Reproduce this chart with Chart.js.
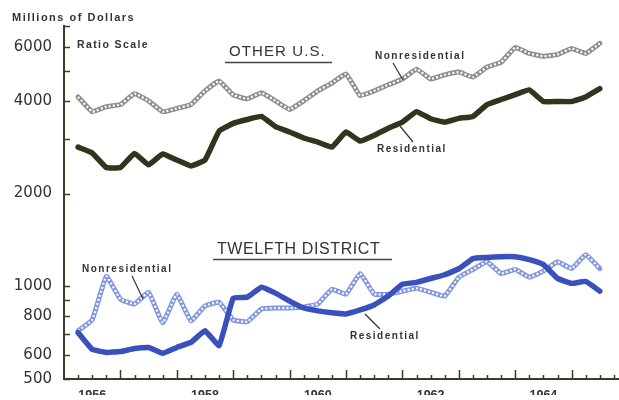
<!DOCTYPE html>
<html>
<head>
<meta charset="utf-8">
<script src="https://cdn.jsdelivr.net/npm/chart.js@4/dist/chart.umd.min.js"></script>
<style>
html,body{margin:0;padding:0;background:#fff;}
#wrap{width:619px;height:400px;position:relative;}
</style>
</head>
<body>
<div id="wrap"><canvas id="c" width="619" height="400"></canvas></div>
<script>
// ---- data (quarterly, millions of dollars, ratio scale) ----
const quarters = [
 '1956 Q1','1956 Q2','1956 Q3','1956 Q4','1957 Q1','1957 Q2','1957 Q3','1957 Q4',
 '1958 Q1','1958 Q2','1958 Q3','1958 Q4','1959 Q1','1959 Q2','1959 Q3','1959 Q4',
 '1960 Q1','1960 Q2','1960 Q3','1960 Q4','1961 Q1','1961 Q2','1961 Q3','1961 Q4',
 '1962 Q1','1962 Q2','1962 Q3','1962 Q4','1963 Q1','1963 Q2','1963 Q3','1963 Q4',
 '1964 Q1','1964 Q2','1964 Q3','1964 Q4','1965 Q1','1965 Q2'
];
const otherResidential = [2830,2710,2430,2430,2700,2480,2690,2570,2460,2570,3190,3380,3480,3560,3300,3170,3030,2940,2830,3170,2960,3090,3260,3410,3690,3500,3410,3510,3560,3890,4040,4190,4340,3980,3980,3980,4120,4380];
const otherNonresidential = [4120,3690,3830,3890,4220,4000,3690,3780,3890,4310,4640,4180,4060,4250,4000,3750,4000,4310,4570,4890,4160,4310,4510,4710,5070,4710,4860,4960,4780,5150,5340,5960,5700,5580,5660,5920,5700,6150];
const twelfthResidential = [707,624,610,614,628,633,606,633,657,717,642,915,922,993,950,895,850,832,820,813,838,870,930,1015,1030,1060,1090,1140,1230,1240,1248,1248,1220,1176,1061,1022,1037,964];
const twelfthNonresidential = [717,778,1077,908,876,955,761,943,772,863,888,778,767,844,850,850,856,876,978,943,1100,943,943,964,985,957,929,1070,1134,1202,1100,1134,1070,1120,1202,1142,1266,1142];
const yTickValues = [500,600,700,800,900,1000,2000,3000,4000,5000,6000,7000];
const yLabelled = [500,600,800,1000,2000,4000,6000];
const yearLabels = ['1956','1958','1960','1962','1964'];

// quarter label -> position on the time axis (plotted at quarter end)
function qPos(label){ const p = label.split(' Q'); return parseInt(p[0]) + parseInt(p[1]) * 0.25; }
function pts(values){ return values.map((v,i)=>({x:qPos(quarters[i]), y:v})); }

const AXIS = '#3b3b2a';
const TEXT = '#333';

const decorPlugin = {
  id:'decor',
  afterDraw(chart){
    const ctx = chart.ctx, xs = chart.scales.x, ys = chart.scales.y;
    const ca = chart.chartArea;
    ctx.save();
    ctx.strokeStyle = AXIS; ctx.lineWidth = 1.5;
    yTickValues.forEach(v=>{
      const y = Math.round(ys.getPixelForValue(v))+0.5;
      ctx.beginPath(); ctx.moveTo(ca.left, y); ctx.lineTo(ca.left+6, y); ctx.stroke();
    });
    for(let t=1956.25; t<=1965.76; t+=0.25){
      const x = Math.round(xs.getPixelForValue(t))+0.5;
      const major = Math.abs(t-Math.round(t))<0.01;
      ctx.beginPath(); ctx.moveTo(x, ca.bottom); ctx.lineTo(x, ca.bottom-(major?9:4)); ctx.stroke();
    }
    function txt(s,x,y,font,spacing,align){
      ctx.font = font; ctx.fillStyle = TEXT; ctx.textBaseline='middle'; ctx.textAlign = align||'left';
      try{ ctx.letterSpacing = (spacing||0)+'px'; }catch(e){}
      ctx.fillText(s,x,y);
      try{ ctx.letterSpacing = '0px'; }catch(e){}
    }
    txt('Millions of Dollars', 12, 18, "bold 11px 'Liberation Sans'", 1.5);
    txt('Ratio Scale', 77, 45, "bold 10.5px 'Liberation Sans'", 1.4);
    txt('OTHER U.S.', 229, 52, "15px 'Liberation Sans'", 1.1);
    txt('TWELFTH DISTRICT', 217, 250, "16px 'Liberation Sans'", 0.6);
    txt('Nonresidential', 375, 56, "bold 10px 'Liberation Sans'", 1.5);
    txt('Residential', 377, 149, "bold 10px 'Liberation Sans'", 1.5);
    txt('Nonresidential', 82, 269, "bold 10px 'Liberation Sans'", 1.5);
    txt('Residential', 350, 336, "bold 10px 'Liberation Sans'", 1.5);
    ctx.strokeStyle = '#444'; ctx.lineWidth = 1.3;
    ctx.beginPath(); ctx.moveTo(225,62.5); ctx.lineTo(332,62.5); ctx.stroke();
    ctx.beginPath(); ctx.moveTo(213,259.5); ctx.lineTo(392,259.5); ctx.stroke();
    ctx.lineWidth = 1.2; ctx.strokeStyle = '#333';
    [[393,63,403,80],[400,126,413,142],[132,276,143,299],[365,314,380,329]].forEach(l=>{
      ctx.beginPath(); ctx.moveTo(l[0],l[1]); ctx.lineTo(l[2],l[3]); ctx.stroke();
    });
    ctx.restore();
  }
};

new Chart(document.getElementById('c'), {
  type:'line',
  data:{
    datasets:[
      {label:'Other U.S. Residential', data:pts(otherResidential), borderColor:'#33331e', borderWidth:5.5, order:1},
      {label:'Other U.S. Nonresidential (beads)', data:pts(otherNonresidential), borderColor:'#ffffff', borderWidth:2.2, borderDash:[2,2.2], borderCapStyle:'butt', order:2},
      {label:'Other U.S. Nonresidential', data:pts(otherNonresidential), borderColor:'#8f8f8a', borderWidth:5, order:3},
      {label:'Twelfth District Residential', data:pts(twelfthResidential), borderColor:'#3a50bd', borderWidth:5.5, order:1},
      {label:'Twelfth District Nonresidential (beads)', data:pts(twelfthNonresidential), borderColor:'#ffffff', borderWidth:2.2, borderDash:[2,2.2], borderCapStyle:'butt', order:2},
      {label:'Twelfth District Nonresidential', data:pts(twelfthNonresidential), borderColor:'#8396e0', borderWidth:5, order:3}
    ]
  },
  options:{
    responsive:false, animation:false,
    layout:{padding:{top:26,left:0,right:0,bottom:0}},
    elements:{point:{radius:0}, line:{tension:0.1, borderCapStyle:'round', borderJoinStyle:'round', fill:false}},
    plugins:{legend:{display:false}, tooltip:{enabled:false}},
    scales:{
      x:{
        type:'linear', min:1956, max:1965.84,
        grid:{display:false, drawTicks:false},
        border:{display:true, color:AXIS, width:2},
        afterBuildTicks(s){ s.ticks = yearLabels.map(l=>({value:parseInt(l)+0.5})); },
        afterFit(s){ s.height = 16; },
        ticks:{padding:9, color:TEXT, font:{family:"'Liberation Sans'", size:12.5, weight:'bold'},
          autoSkip:false, maxRotation:0,
          callback:(v)=>String(Math.floor(v))}
      },
      y:{
        type:'logarithmic', min:500, max:7000,
        grid:{display:false, drawTicks:false},
        border:{display:true, color:AXIS, width:2},
        afterBuildTicks(s){ s.ticks = yTickValues.map(v=>({value:v})); },
        afterFit(s){ s.width = 64; },
        ticks:{padding:12, color:TEXT, font:{family:"'DejaVu Sans'", size:15},
          autoSkip:false,
          callback:(v)=> yLabelled.includes(v) ? String(v) : ''}
      }
    }
  },
  plugins:[decorPlugin]
});
</script>
</body>
</html>
